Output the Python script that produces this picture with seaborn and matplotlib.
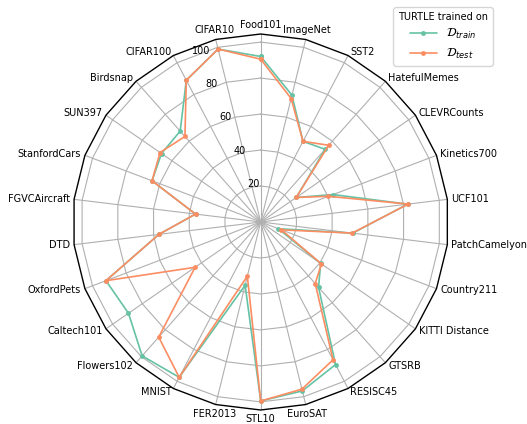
import numpy as np
import pandas as pd
import matplotlib
matplotlib.use("Agg")
import matplotlib.pyplot as plt
import seaborn as sns
from matplotlib.patches import RegularPolygon
from matplotlib.path import Path
from matplotlib.projections import register_projection
from matplotlib.projections.polar import PolarAxes
from matplotlib.spines import Spine
from matplotlib.transforms import Affine2D

# Benchmarks, listed counter-clockwise starting from the top spoke
datasets = [
    "Food101", "CIFAR10", "CIFAR100", "Birdsnap", "SUN397", "StanfordCars",
    "FGVCAircraft", "DTD", "OxfordPets", "Caltech101", "Flowers102", "MNIST",
    "FER2013", "STL10", "EuroSAT", "RESISC45", "GTSRB", "KITTI Distance",
    "Country211", "PatchCamelyon", "UCF101", "Kinetics700", "CLEVRCounts",
    "HatefulMemes", "SST2", "ImageNet",
]
train_scores = [
    92.0, 99.0, 89.0, 67.5, 67.0, 64.6,
    36.5, 57.0, 92.0, 89.3, 99.4, 97.5,
    36.2, 99.5, 96.7, 89.5, 48.5, 40.5,
    10.5, 51.5, 82.3, 43.0, 24.0,
    54.0, 50.6, 72.6,
]
test_scores = [
    90.5, 99.0, 89.0, 63.5, 68.0, 64.6,
    36.5, 57.0, 92.0, 44.3, 85.5, 97.5,
    31.0, 99.5, 95.7, 86.5, 45.7, 41.0,
    12.3, 51.2, 82.6, 40.3, 24.0,
    57.0, 50.6, 70.7,
]
series_labels = [r"$\mathcal{D}_{train}$", r"$\mathcal{D}_{test}$"]
legend_title = "TURTLE trained on"
r_ticks = [20, 40, 60, 80, 100]

num_vars = len(datasets)
R_MAX = 104.5


def radar_factory(n):
    """Polar axes with a regular n-gon frame and straight-edged grid rings."""
    theta = np.linspace(0, 2 * np.pi, n, endpoint=False)

    class RadarTransform(PolarAxes.PolarTransform):
        def transform_path_non_affine(self, path):
            if path._interpolation_steps > 1:
                path = path.interpolated(n)
            return Path(self.transform(path.vertices), path.codes)

    class RadarAxes(PolarAxes):
        name = "radar"
        PolarTransform = RadarTransform

        def __init__(self, *args, **kwargs):
            super().__init__(*args, **kwargs)
            self.set_theta_zero_location("N")

        def _gen_axes_patch(self):
            return RegularPolygon((0.5, 0.5), n, radius=0.5, edgecolor="k")

        def _gen_axes_spines(self):
            spine = Spine(axes=self, spine_type="circle",
                          path=Path.unit_regular_polygon(n))
            spine.set_transform(Affine2D().scale(0.5).translate(0.5, 0.5)
                                + self.transAxes)
            return {"polar": spine}

    register_projection(RadarAxes)
    return theta


theta = radar_factory(num_vars)

sns.set_theme(style="white", rc={
    "text.color": "black",
    "axes.labelcolor": "black",
    "xtick.color": "black",
    "ytick.color": "black",
})
plt.rcParams["font.family"] = ["DejaVu Sans"]
palette = sns.color_palette("Set2", 2)

# Long-form table; each polygon is closed by repeating its first vertex
closed_theta = np.append(theta, 2 * np.pi)
frames = []
for label, scores in zip(series_labels, [train_scores, test_scores]):
    frames.append(pd.DataFrame({
        "theta": closed_theta,
        "score": np.append(scores, scores[0]),
        "series": label,
    }))
df = pd.concat(frames, ignore_index=True)

fig = plt.figure(figsize=(5.27, 4.24), dpi=100)
ax = fig.add_axes([72.7 / 527, 14 / 424, 376 / 527, 376 / 424],
                  projection="radar")

sns.lineplot(data=df, x="theta", y="score", hue="series",
             hue_order=series_labels, palette=palette, sort=False,
             estimator=None, marker="o", markersize=3.5,
             markeredgewidth=0, linewidth=1.2, ax=ax)

ax.set_ylim(0, R_MAX)
ax.set_rgrids(r_ticks, [str(t) for t in r_ticks], fontsize=7)
ax.set_thetagrids(np.degrees(theta), [""] * num_vars)
ax.set_xlabel("")
ax.set_ylabel("")
ax.grid(True, color="#b0b0b0", linewidth=0.8)
ax.spines["polar"].set_edgecolor("black")
ax.spines["polar"].set_linewidth(1.0)

# Category names sit just outside each frame vertex
for name, t in zip(datasets, theta):
    phi = np.pi / 2 + t
    c, s = np.cos(phi), np.sin(phi)
    if abs(c) < 0.26:
        ha = "center"
    elif c > 0:
        ha = "left"
    else:
        ha = "right"
    if s > 0.95:
        va = "bottom"
    elif s < -0.95:
        va = "top"
    else:
        va = "center"
    ax.annotate(name, xy=(t, R_MAX), xytext=(3 * c, 3 * s),
                textcoords="offset points", ha=ha, va=va, fontsize=7,
                color="black", annotation_clip=False)

handles, labels = ax.get_legend_handles_labels()
ax.legend(handles, labels, title=legend_title, loc="upper right",
          bbox_to_anchor=(492.7 / 527, 1 - 7.3 / 424),
          bbox_transform=fig.transFigure, borderaxespad=0,
          fontsize=8.5, title_fontsize=7, handlelength=2.3,
          labelspacing=0.45, frameon=True, edgecolor="#cccccc",
          framealpha=0.8)

fig.savefig("out.png", dpi=100)
